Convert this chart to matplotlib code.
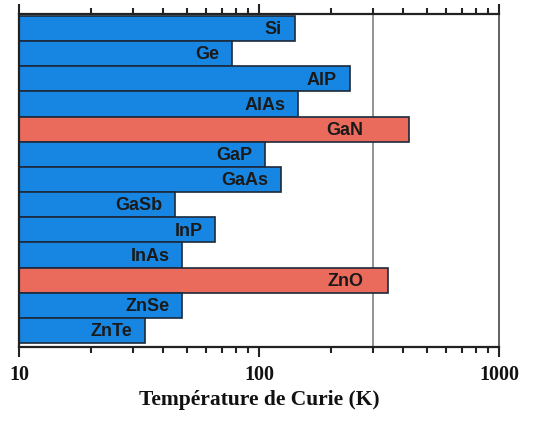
import matplotlib
matplotlib.use("Agg")
import matplotlib.pyplot as plt
from matplotlib.ticker import LogLocator, NullFormatter

# Curie temperatures (K) predicted for 5% Mn-doped semiconductors
materials = ["Si", "Ge", "AlP", "AlAs", "GaN", "GaP", "GaAs",
             "GaSb", "InP", "InAs", "ZnO", "ZnSe", "ZnTe"]
curie_temp = [141, 77, 239, 146, 423, 106, 123, 44.7, 65.8, 47.8, 346, 47.8, 33.5]
highlight = ["GaN", "ZnO"]
room_temp = 300
x_ticks = [10, 100, 1000]
x_tick_labels = ["10", "100", "1000"]

blue = "#1786e2"
red = "#ea6a5c"
edge = "#1c2a3c"

fig = plt.figure(figsize=(5.36, 4.22), dpi=100)
ax = fig.add_axes([0.0354, 0.178, 0.8955, 0.789])

n = len(materials)
ypos = list(range(n))
colors = [red if m in highlight else blue for m in materials]
ax.barh(ypos, curie_temp, height=1.0, left=0, color=colors,
        edgecolor=edge, linewidth=1.2, zorder=2)

ax.set_xscale("log")
ax.set_xlim(10, 1000)
ax.set_ylim(n - 0.5 + 0.15, -0.5 - 0.08)

ax.axvline(room_temp, color="#8a8a8a", linewidth=1.3, zorder=1)

# labels sit inside the bar end; bars crossing 300 K keep theirs left of the line
for y, m, v in zip(ypos, materials, curie_temp):
    x_lab = min(v / 1.13, room_temp / 1.1)
    ax.text(x_lab, y + 0.05, m, ha="right", va="center",
            fontsize=13, fontweight="bold", family="Liberation Sans",
            color="#1a1a1a", zorder=3)

ax.set_xticks(x_ticks)
ax.set_xticklabels(x_tick_labels, fontsize=14.5, fontweight="bold",
                   family="Liberation Serif")
ax.xaxis.set_minor_locator(LogLocator(base=10, subs=range(2, 10)))
ax.xaxis.set_minor_formatter(NullFormatter())
ax.tick_params(axis="x", which="major", direction="out", length=7, width=1.5,
               top=True, bottom=True, pad=6, colors="#222222")
ax.tick_params(axis="x", which="minor", direction="out", length=4, width=1.5,
               top=True, bottom=True, colors="#222222")
ax.tick_params(axis="x", which="both", labelcolor="#111111")
ax.set_yticks([])

for side in ["left", "bottom", "top"]:
    ax.spines[side].set_linewidth(1.6)
    ax.spines[side].set_color("#222222")
ax.spines["right"].set_linewidth(1.3)
ax.spines["right"].set_color("#555555")

ax.set_xlabel("Température de Curie (K)", fontsize=15.5, fontweight="bold",
              family="Liberation Serif", labelpad=4, color="#111111")

fig.savefig("out.png", dpi=100)
